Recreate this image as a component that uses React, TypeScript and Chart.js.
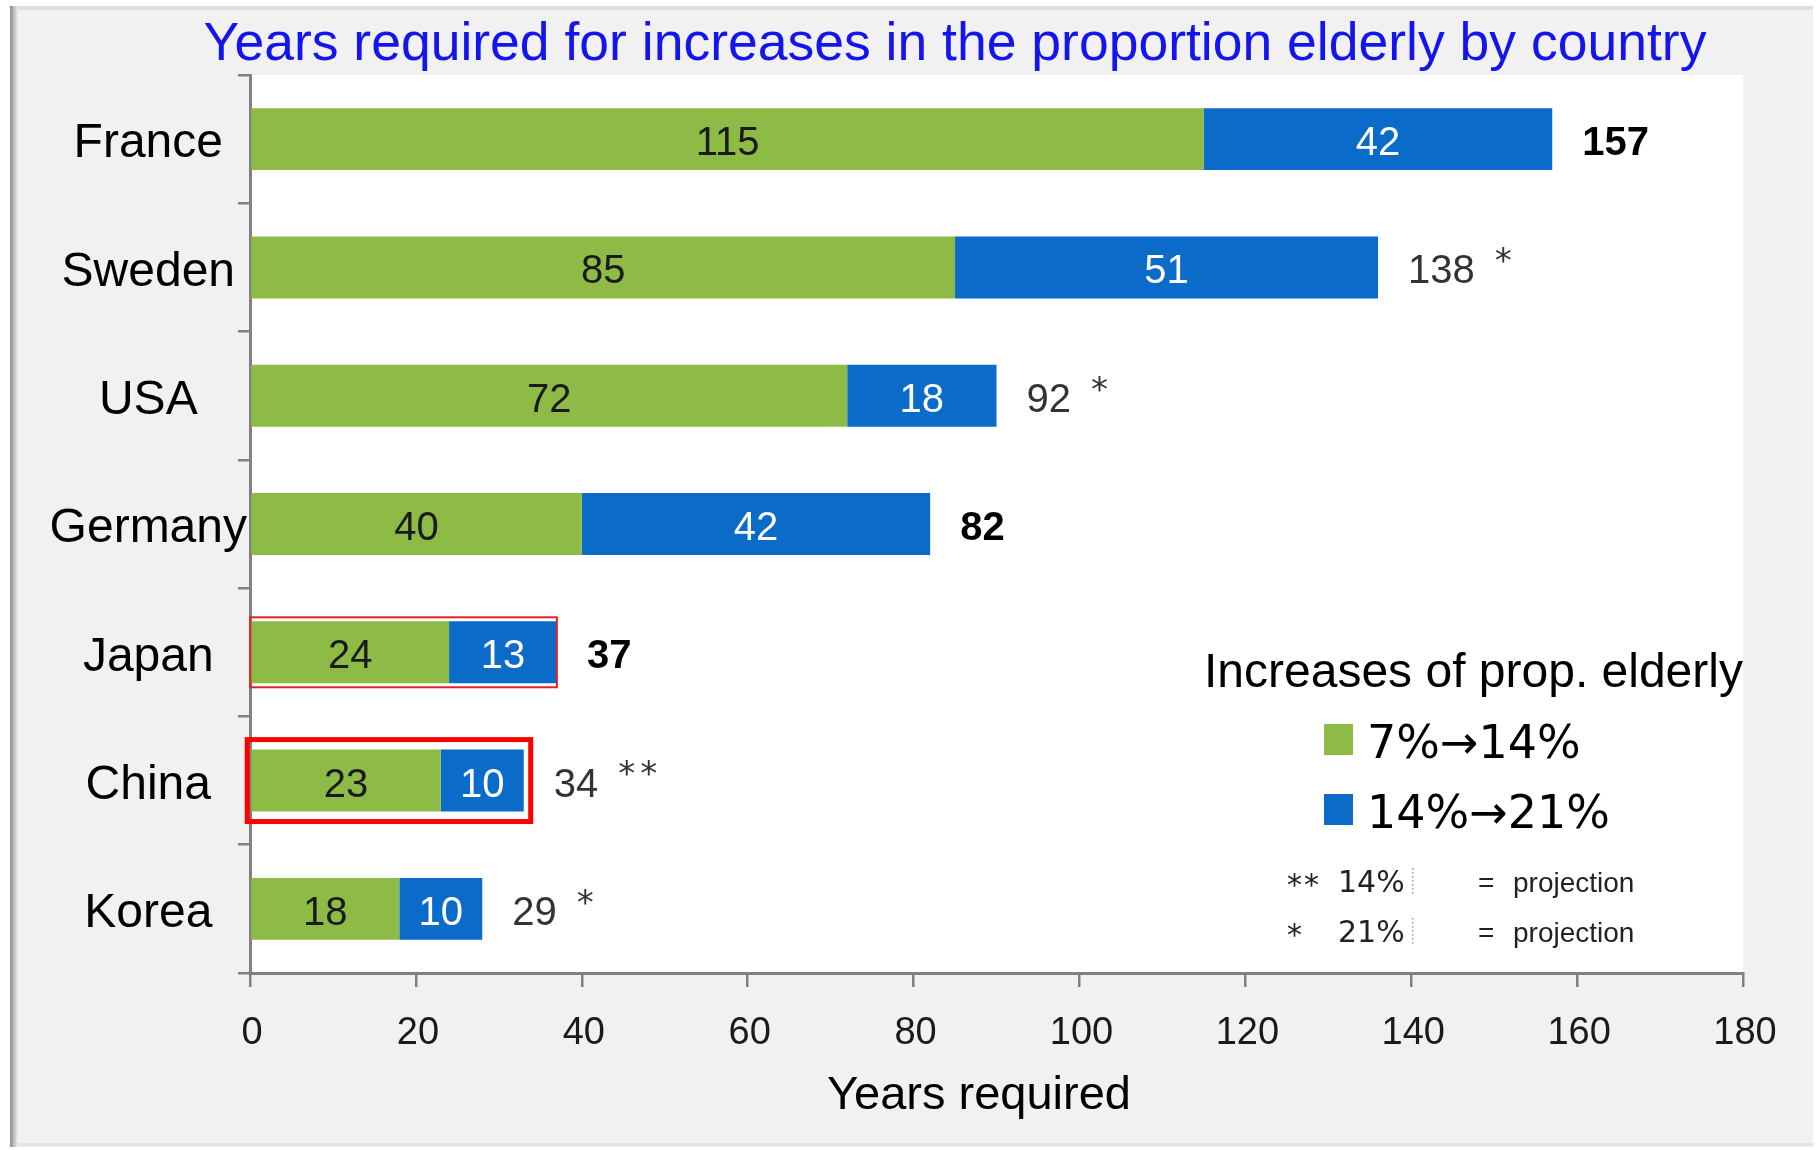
import React, { useEffect, useRef } from 'react';
import { Chart, registerables } from 'chart.js';

Chart.register(...registerables);

// ---------- data ----------
const countries = ['France', 'Sweden', 'USA', 'Germany', 'Japan', 'China', 'Korea'];
const years7to14 = [115, 85, 72, 40, 24, 23, 18];
const years14to21 = [42, 51, 18, 42, 13, 10, 10];
const totalLabels = ['157', '138', '92', '82', '37', '34', '29'];
const totalMarks = ['', '*', '*', '', '', '**', '*'];
const totalBold = [true, false, false, true, true, false, false];
const seriesNames = ['7%→14%', '14%→21%'];
const highlighted = ['Japan', 'China'];
const footnoteMarks = ['**', '*'];
const footnoteLevels = ['14%', '21%'];
const footnoteMeaning = ['projection', 'projection'];
const chartTitle = 'Years required for increases in the proportion elderly by country';
const legendTitle = 'Increases of prop. elderly';
const xAxisTitle = 'Years required';
const xMin = 0;
const xMax = 180;
const xStep = 20;

// ---------- styles ----------
const W = 1817;
const H = 1150;
const GREEN = '#8DBB45';
const BLUE = '#0B6BC8';
const AXIS = '#808080';
const ARIAL = "'Liberation Sans', Arial, sans-serif";
const NARROW = "'Liberation Sans Narrow', 'Liberation Sans', sans-serif";
const TAHOMA = "'DejaVu Sans', sans-serif";
const boxStyles = [
  { color: '#E02424', lineWidth: 2, padL: 1, padR: 0, padY: 4 },
  { color: '#FF0000', lineWidth: 5, padL: 4, padR: 7, padY: 10 },
];

function drawMarks(ctx: CanvasRenderingContext2D, mark: string, x: number, y: number, gap: number) {
  for (let k = 0; k < mark.length; k++) ctx.fillText(mark[k], x + k * gap, y);
}

const backgroundPlugin = {
  id: 'bgPanel',
  beforeDraw(chart: any) {
    const { ctx, chartArea } = chart;
    ctx.save();
    ctx.fillStyle = '#ffffff';
    ctx.fillRect(0, 0, W, H);
    ctx.fillStyle = '#f1f1f1';
    ctx.fillRect(10, 6, W - 14, H - 9);
    const g = ctx.createLinearGradient(10, 0, 18, 0);
    g.addColorStop(0, '#8a8a8a');
    g.addColorStop(1, '#f1f1f1');
    ctx.fillStyle = g;
    ctx.fillRect(10, 6, 8, H - 9);
    ctx.fillStyle = '#dedede';
    ctx.fillRect(18, 6, W - 22, 4);
    ctx.fillStyle = '#e2e2e2';
    ctx.fillRect(18, H - 7, W - 22, 3);
    ctx.fillStyle = '#ffffff';
    ctx.fillRect(chartArea.left, chartArea.top, chartArea.right - chartArea.left, chartArea.bottom - chartArea.top);
    ctx.restore();
  },
};

const annotationPlugin = {
  id: 'annotations',
  afterDatasetsDraw(chart: any) {
    const { ctx } = chart;
    const m0 = chart.getDatasetMeta(0);
    const m1 = chart.getDatasetMeta(1);
    ctx.save();
    // highlight boxes
    highlighted.forEach((name, k) => {
      const i = countries.indexOf(name);
      const s = boxStyles[k];
      const a = m0.data[i];
      const b = m1.data[i];
      const half = a.height / 2;
      ctx.strokeStyle = s.color;
      ctx.lineWidth = s.lineWidth;
      ctx.strokeRect(a.base - s.padL, a.y - half - s.padY, b.x - a.base + s.padL + s.padR, 2 * half + 2 * s.padY);
    });
    // values inside bars
    ctx.textAlign = 'center';
    ctx.textBaseline = 'middle';
    ctx.font = `40px ${NARROW}`;
    [m0, m1].forEach((m, d) => {
      const vals = d === 0 ? years7to14 : years14to21;
      m.data.forEach((el: any, i: number) => {
        ctx.fillStyle = d === 0 ? '#1a1a1a' : '#ffffff';
        ctx.fillText(String(vals[i]), (el.x + el.base) / 2, el.y + 5);
      });
    });
    // totals
    ctx.textAlign = 'left';
    m1.data.forEach((el: any, i: number) => {
      const x = el.x + 30;
      ctx.font = `${totalBold[i] ? 'bold ' : ''}40px ${NARROW}`;
      ctx.fillStyle = totalBold[i] ? '#000000' : '#333333';
      ctx.fillText(totalLabels[i], x, el.y + 5);
      const w = ctx.measureText(totalLabels[i]).width;
      if (totalMarks[i]) {
        ctx.font = `34px ${TAHOMA}`;
        ctx.fillStyle = '#333333';
        drawMarks(ctx, totalMarks[i], x + w + 20, el.y - 4, 22);
      }
    });
    ctx.restore();
  },
  afterDraw(chart: any) {
    const { ctx } = chart;
    ctx.save();
    // main title
    ctx.font = `53.5px ${ARIAL}`;
    ctx.fillStyle = '#1414EE';
    ctx.textAlign = 'center';
    ctx.textBaseline = 'alphabetic';
    ctx.fillText(chartTitle, 955, 60);
    // x axis title
    ctx.font = `47px ${ARIAL}`;
    ctx.fillStyle = '#000000';
    ctx.textBaseline = 'middle';
    ctx.fillText(xAxisTitle, 979, 1096);
    // legend
    ctx.textBaseline = 'alphabetic';
    ctx.textAlign = 'left';
    ctx.font = `48px ${ARIAL}`;
    ctx.fillText(legendTitle, 1204, 687);
    chart.data.datasets.forEach((ds: any, d: number) => {
      const top = 724 + d * 70;
      ctx.fillStyle = ds.backgroundColor;
      ctx.fillRect(1324, top, 29, 31);
      ctx.fillStyle = '#000000';
      ctx.font = `46px ${TAHOMA}`;
      ctx.fillText(ds.label, 1367, top + 34);
    });
    // footnotes
    footnoteMarks.forEach((mk, r) => {
      const base = 892 + r * 50;
      ctx.fillStyle = '#222222';
      ctx.font = `30px ${TAHOMA}`;
      drawMarks(ctx, mk, 1287, base + 3, 17);
      ctx.font = `30px ${TAHOMA}`;
      ctx.fillText(footnoteLevels[r], 1338, base);
      ctx.fillStyle = '#9a9a9a';
      for (let yy = base - 24; yy < base + 2; yy += 4) ctx.fillRect(1412, yy, 1.5, 1.5);
      ctx.fillStyle = '#222222';
      ctx.font = `28px ${ARIAL}`;
      ctx.fillText('=', 1478, base);
      ctx.fillText(footnoteMeaning[r], 1513, base);
    });
    ctx.restore();
  },
};

export default function App() {
  const ref = useRef<HTMLCanvasElement>(null);
  useEffect(() => {
    const chart = new Chart(ref.current as HTMLCanvasElement, {
      type: 'bar',
      data: {
        labels: countries,
        datasets: [
          { label: seriesNames[0], data: years7to14, backgroundColor: GREEN, borderWidth: 0, categoryPercentage: 0.483, barPercentage: 1 },
          { label: seriesNames[1], data: years14to21, backgroundColor: BLUE, borderWidth: 0, categoryPercentage: 0.483, barPercentage: 1 },
        ],
      },
      options: {
        indexAxis: 'y',
        responsive: false,
        animation: false,
        layout: { padding: { left: 0, right: W - 1743, top: 75, bottom: 0 } },
        plugins: { legend: { display: false }, title: { display: false }, tooltip: { enabled: false } },
        scales: {
          x: {
            stacked: true,
            min: xMin,
            max: xMax,
            ticks: { stepSize: xStep, font: { family: NARROW, size: 38 }, color: '#1a1a1a', padding: 24, labelOffset: 2 },
            grid: { drawOnChartArea: false, drawTicks: true, tickLength: 14, color: AXIS, lineWidth: 2.5 },
            border: { display: true, color: AXIS, width: 3 },
            title: { display: false, text: xAxisTitle },
            afterFit: (s: any) => { s.height = H - 973; },
          },
          y: {
            stacked: true,
            ticks: { font: { family: ARIAL, size: 48 }, color: '#000000', crossAlign: 'center', padding: -9, labelOffset: 5 },
            grid: { drawOnChartArea: false, tickLength: 12, color: AXIS, lineWidth: 2.5, offset: true },
            border: { display: true, color: AXIS, width: 3 },
            afterFit: (s: any) => { s.width = 250; },
          },
        },
      } as any,
      plugins: [backgroundPlugin, annotationPlugin],
    });
    return () => chart.destroy();
  }, []);
  return (
    <div style={{ position: 'fixed', left: 0, top: 0, width: W, height: H }}>
      <canvas ref={ref} width={W} height={H} style={{ width: W + 'px', height: H + 'px', display: 'block' }} />
    </div>
  );
}
